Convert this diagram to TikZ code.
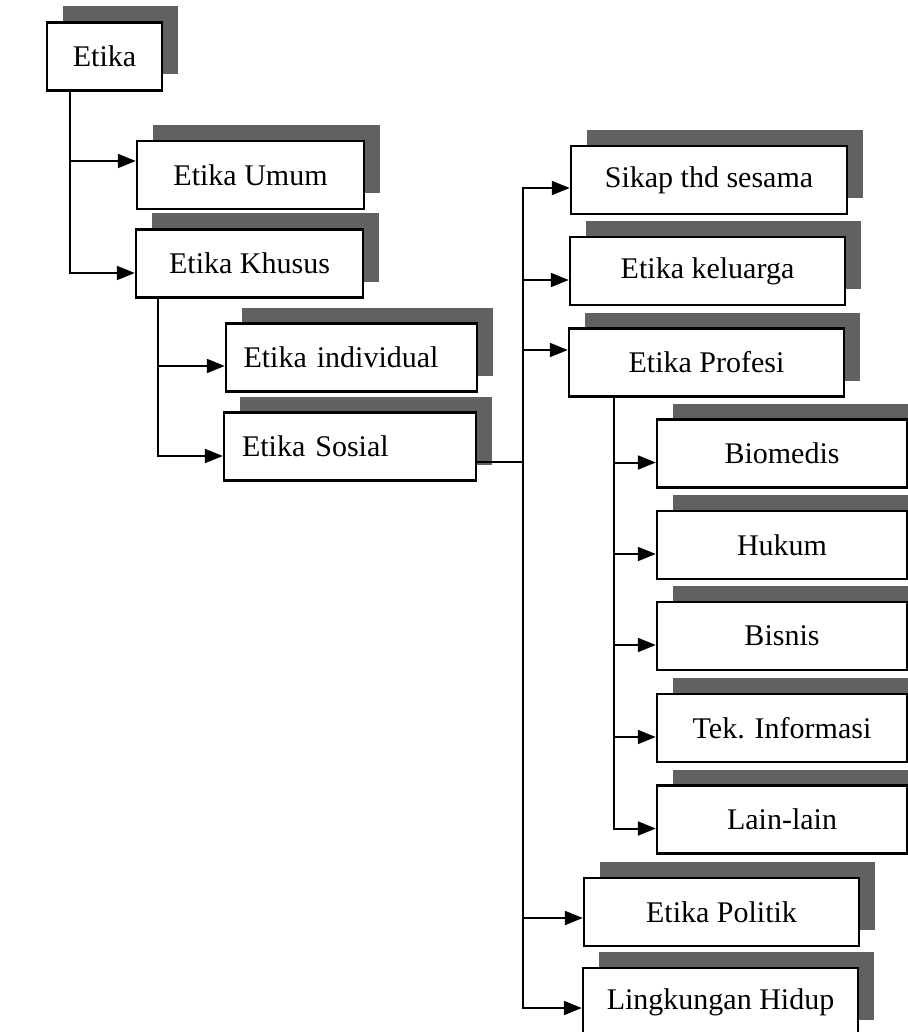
\documentclass[tikz,border=0pt]{standalone}
\usepackage{fontspec}
\setmainfont{Liberation Serif}
\usetikzlibrary{shadows,arrows.meta,positioning}

\tikzset{
    kotak/.style={draw, line width=1.2pt, fill=white, inner sep=0pt,
        minimum height=34pt, font=\fontsize{15}{18}\selectfont,
        general shadow={fill=black!62, shadow xshift=8pt, shadow yshift=8pt}},
    panah/.style={line width=1pt, -{Triangle[length=9pt,width=7pt]}},
    garis/.style={line width=1pt}
}

\begin{document}
\begin{tikzpicture}[x=0.5pt, y=-0.5pt]

    % Page
    \useasboundingbox (0,0) rectangle (908,1032);
    \clip (0,0) rectangle (908,1032);

    % Etika
    \node[kotak, minimum width=57.5pt] (etika) at (104.5,56.5) {Etika};
    \node[kotak, minimum width=113.5pt] (umum) at (250.5,175) {Etika Umum};
    \node[kotak, minimum width=113.5pt] (khusus) at (249.5,263.5) {Etika Khusus};

    % Etika Khusus
    \node[kotak, minimum width=125.5pt, text width=108pt, align=left] (individual) at (351.5,357.5) {Etika individual};
    \node[kotak, minimum width=126pt, text width=108pt, align=left] (sosial) at (350,446.5) {Etika Sosial};

    % Etika Sosial
    \node[kotak, minimum width=138pt] (sikap) at (709,180) {Sikap thd sesama};
    \node[kotak, minimum width=137.5pt] (keluarga) at (707.5,271) {Etika keluarga};
    \node[kotak, minimum width=137.5pt] (profesi) at (706.5,362.5) {Etika Profesi};
    \node[kotak, minimum width=137.5pt] (politik) at (721.5,912) {Etika Politik};
    \node[kotak, minimum width=137.5pt] (hidup) at (720.5,1002) {Lingkungan Hidup};

    % Etika Profesi
    \foreach \nama/\teks/\y in {biomedis/Biomedis/453.5, hukum/Hukum/545,
        bisnis/Bisnis/636, tek/Tek. Informasi/728, lain/Lain-lain/819.5}
        \node[kotak, minimum width=125pt] (\nama) at (782,\y) {\teks};

    % Arrows
    \draw[panah] ([xshift=-17.25pt]etika.south) |- ([yshift=7pt]umum.west);
    \draw[panah] ([xshift=-17.25pt]etika.south) |- ([yshift=-4.75pt]khusus.west);

    \draw[panah] ([xshift=-45.75pt]khusus.south) |- ([yshift=-4.25pt]individual.west);
    \draw[panah] ([xshift=-45.75pt]khusus.south) |- ([yshift=-4.75pt]sosial.west);

    \coordinate (cabang) at ([xshift=23pt]sosial.east |- 0,462);
    \draw[garis] ([yshift=-7.75pt]sosial.east) -- (cabang);
    \draw[panah] (cabang) |- ([yshift=-4pt]sikap.west);
    \draw[panah] (cabang) |- ([yshift=-4.5pt]keluarga.west);
    \draw[panah] (cabang) |- ([yshift=6.25pt]profesi.west);
    \draw[panah] (cabang) |- ([yshift=-3pt]politik.west);
    \draw[panah] (cabang) |- ([yshift=-3pt]hidup.west);

    \foreach \nama in {biomedis,hukum,bisnis,tek,lain}
        \draw[panah] ([xshift=-46.25pt]profesi.south) |- ([yshift=-4.5pt]\nama.west);

\end{tikzpicture}
\end{document}
